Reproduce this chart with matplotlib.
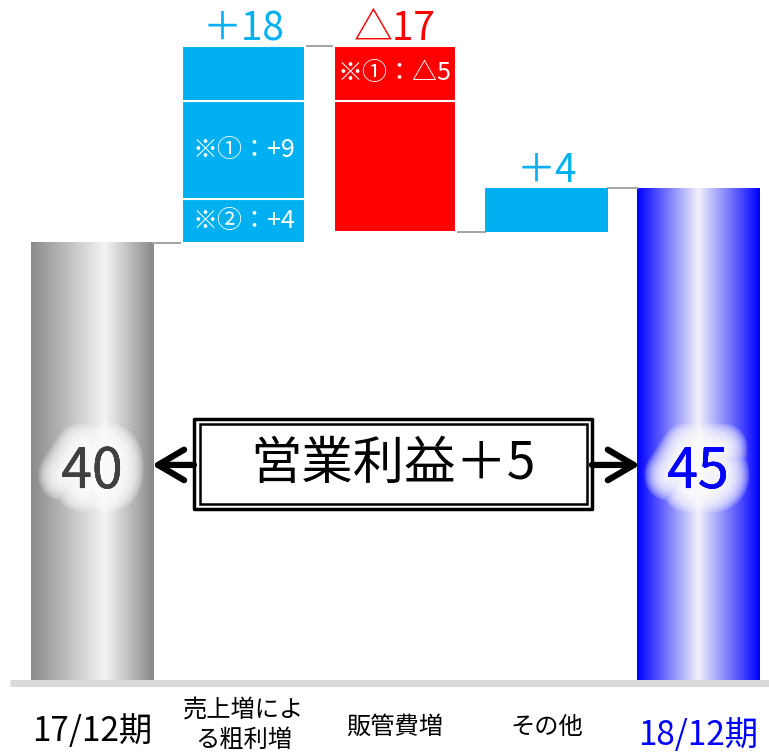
import numpy as np
import matplotlib
matplotlib.use('Agg')
import matplotlib.pyplot as plt
import matplotlib.patheffects as pe
from matplotlib.colors import LinearSegmentedColormap
from matplotlib.patches import Rectangle

plt.rcParams['font.family'] = ['Noto Sans CJK JP', 'DejaVu Sans']

# データ
categories = ['17/12期', '売上増によ\nる粗利増', '販管費増', 'その他', '18/12期']
cat_colors = ['black', 'black', 'black', 'black', '#0000ff']
start_value = 40
end_value = 45
gross_parts = [4, 9, 5]                 # 下から上へ
gross_part_labels = ['※②：+4', '※①：+9', '']
sga_parts = [12, 5]                     # 下から上へ（減少）
sga_part_labels = ['', '※①：△5']
other_change = 4
change_labels = ['＋18', '△17', '＋4']
total_label = '営業利益＋5'

cyan = '#00b0f0'
red = '#ff0000'
w = 0.81

fig = plt.figure(figsize=(7.69, 7.53), dpi=100)
ax = fig.add_axes([0, 0, 1, 1])

gray_cmap = LinearSegmentedColormap.from_list('g', [(0, '#8a8a8a'), (0.6, '#f4f4f4'), (1, '#888888')])
blue_cmap = LinearSegmentedColormap.from_list('b', [(0, '#0000ff'), (0.5, '#f2f2fa'), (1, '#0000ff')])


def gradient_bar(xc, height, cmap):
    bar = ax.bar(xc, height, width=w, color='none', zorder=2)[0]
    grad = np.linspace(0, 1, 256).reshape(1, -1)
    ax.imshow(grad, cmap=cmap, aspect='auto', interpolation='bicubic', zorder=1,
              extent=[bar.get_x(), bar.get_x() + bar.get_width(), 0, height])


# 始点・終点
gradient_bar(0, start_value, gray_cmap)
gradient_bar(4, end_value, blue_cmap)

# 売上増による粗利増
bottom = start_value
for part, lab in zip(gross_parts, gross_part_labels):
    ax.bar(1, part, bottom=bottom, width=w, color=cyan, edgecolor='white', linewidth=1.5, zorder=2)
    if lab:
        ax.text(1, bottom + part / 2, lab, color='white', fontsize=18, ha='center', va='center', zorder=3)
    bottom += part
gross_top = bottom

# 販管費増
sga_bottom = gross_top - sum(sga_parts)
bottom = sga_bottom
for part, lab in zip(sga_parts, sga_part_labels):
    ax.bar(2, part, bottom=bottom, width=w, color=red, edgecolor='white', linewidth=1.5, zorder=2)
    if lab:
        ax.text(2, bottom + part / 2, lab, color='white', fontsize=18, ha='center', va='center', zorder=3)
    bottom += part

# その他
ax.bar(3, other_change, bottom=sga_bottom, width=w, color=cyan, zorder=2)

# 接続線
levels = [start_value, gross_top, sga_bottom, sga_bottom + other_change]
for i, lv in enumerate(levels):
    ax.plot([i + w / 2, i + 1 - w / 2], [lv, lv], color='#a6a6a6', lw=1.5, zorder=1)

# 増減ラベル
tops = [gross_top, gross_top, sga_bottom + other_change]
lab_colors = [cyan, red, cyan]
for i, (t, lab, c) in enumerate(zip(tops, change_labels, lab_colors)):
    ax.annotate(lab, (i + 1, t), xytext=(0, 4), textcoords='offset points',
                ha='center', va='baseline', fontsize=28, color=c)

# 値ラベル（白いぼかし）
glow = [pe.withStroke(linewidth=lw, foreground='white', alpha=0.2)
        for lw in range(34, 2, -3)] + [pe.Normal()]
ax.text(0, 19, str(start_value), fontsize=40, color='#404040', ha='center', va='center',
        path_effects=glow, zorder=4)
ax.text(4, 19, str(end_value), fontsize=40, color='#0000ff', ha='center', va='center',
        path_effects=glow, zorder=4)

# 中央の枠と矢印
ax.add_patch(Rectangle((0.673, 15.65), 2.627, 8.23, facecolor='white', edgecolor='black',
                       lw=2.5, joinstyle='round', zorder=5))
ax.add_patch(Rectangle((0.713, 16.1), 2.554, 7.32, facecolor='none', edgecolor='black',
                       lw=1.8, zorder=5))
ax.text(1.99, 19.7, total_label, fontsize=37, ha='center', va='center', zorder=6)
arrow = dict(arrowstyle='->,head_length=0.85,head_width=0.5', lw=4.5, color='black',
             mutation_scale=22, shrinkA=0, shrinkB=0, capstyle='round')
ax.annotate('', xy=(0.396, 19.67), xytext=(0.673, 19.67), arrowprops=arrow, zorder=5)
ax.annotate('', xy=(3.617, 19.67), xytext=(3.30, 19.67), arrowprops=arrow, zorder=5)

# 基線
ax.plot([-0.54, 4.47], [-0.25, -0.25], lw=5, color='#d9d9d9', solid_capstyle='butt', zorder=1)

# カテゴリラベル
label_y = [-4.67, -4.15, -4.3, -4.3, -5.1]
label_size = [24, 17.5, 17.5, 17.5, 24]
for i, (cat, c) in enumerate(zip(categories, cat_colors)):
    ax.text(i, label_y[i], cat, fontsize=label_size[i], color=c, ha='center', va='center',
            linespacing=1.2)

ax.set_xlim(-0.607, 4.469)
ax.set_ylim(-6.68, 62.2)
ax.axis('off')

plt.savefig('out.png', dpi=100)
